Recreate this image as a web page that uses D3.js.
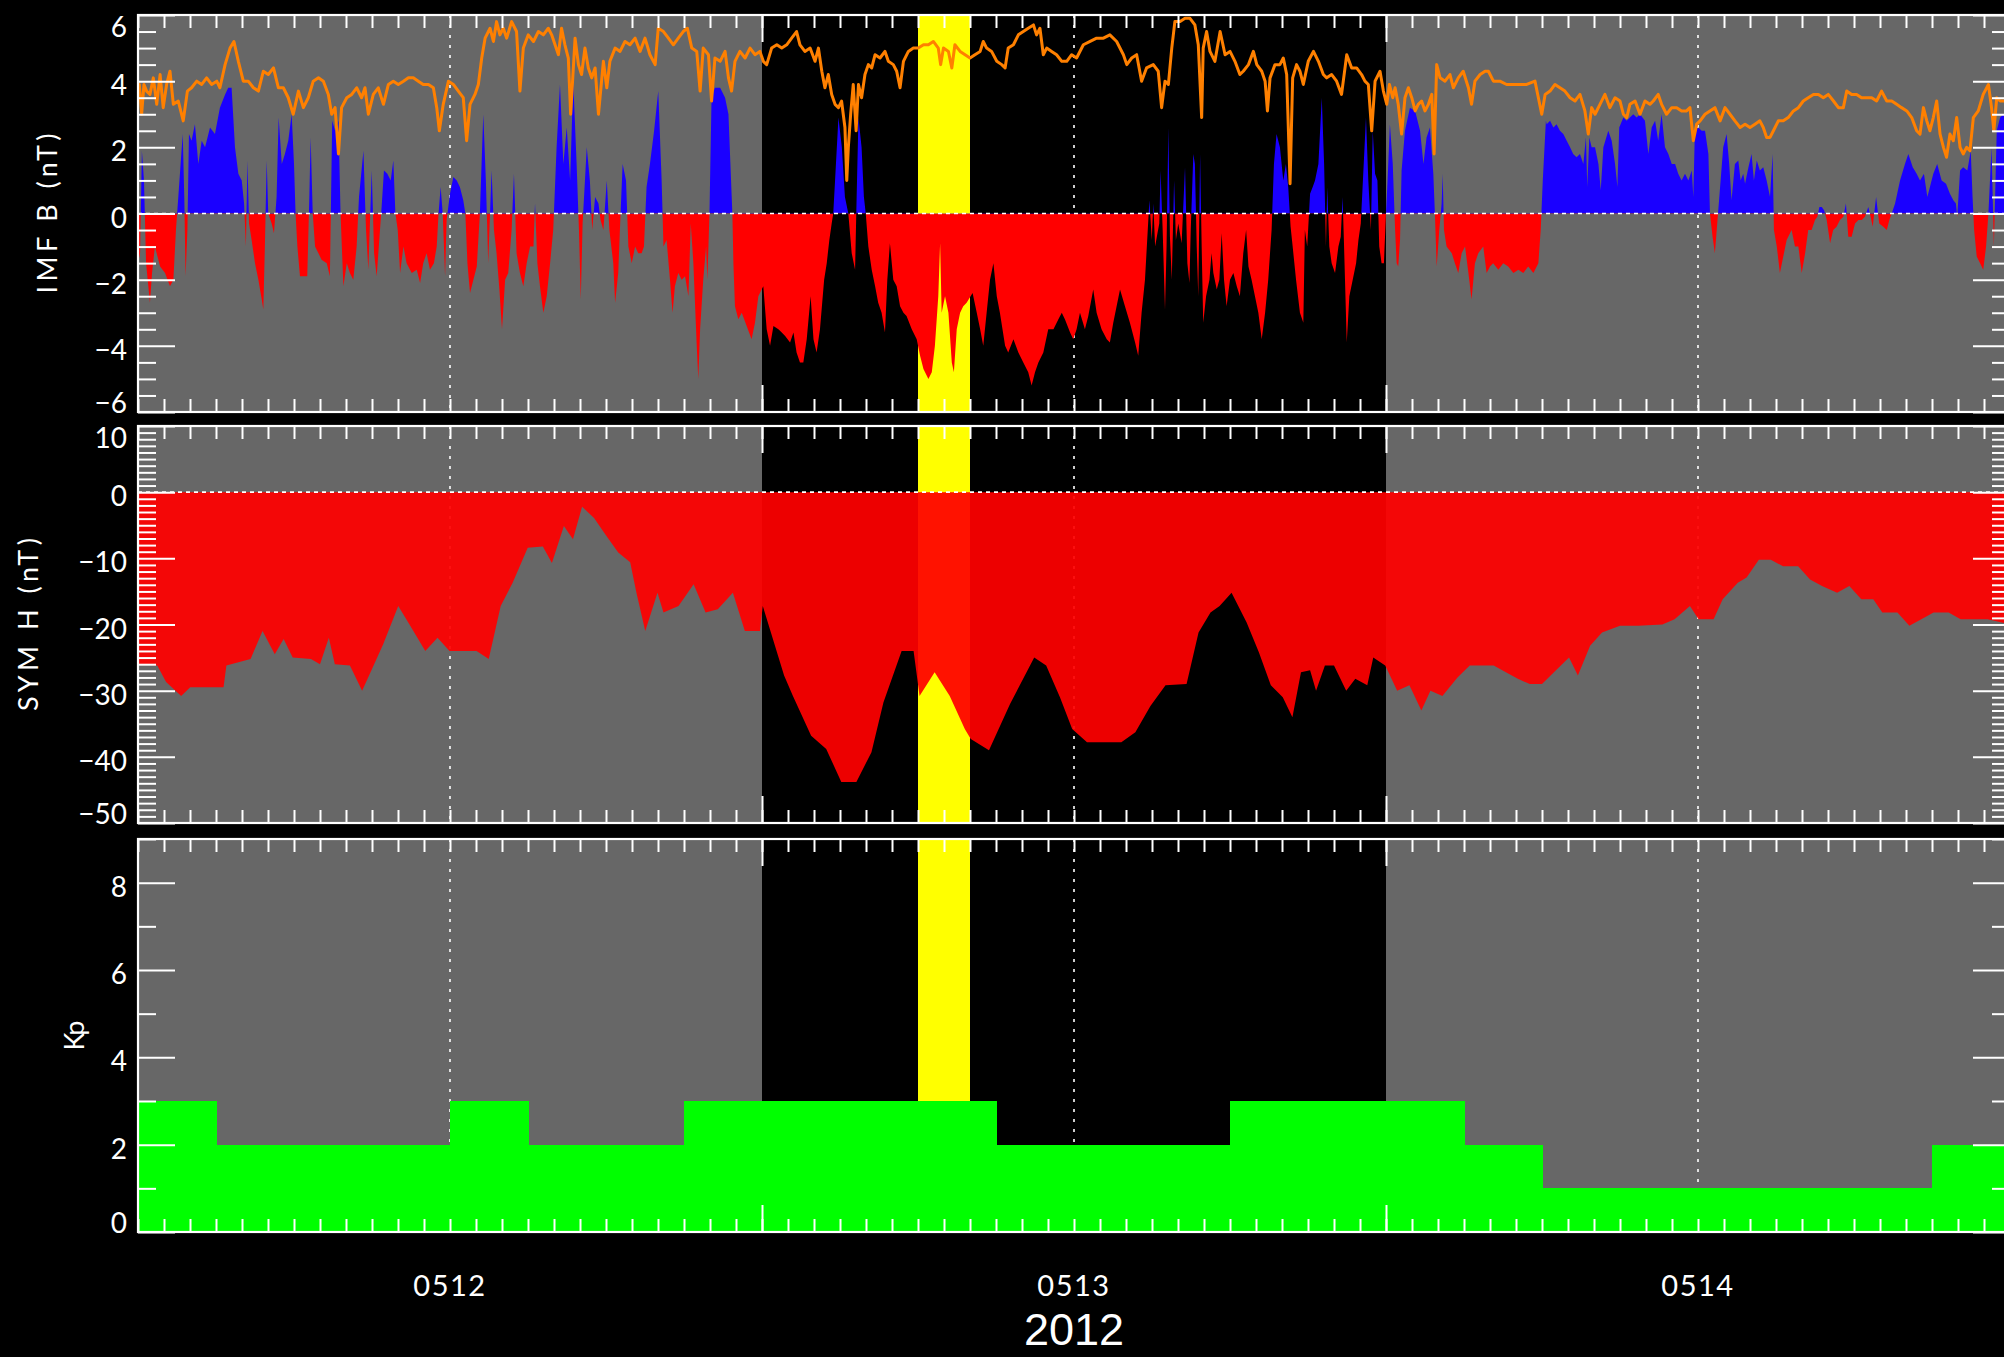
<!DOCTYPE html>
<html>
<head>
<meta charset="utf-8">
<script src="https://cdn.jsdelivr.net/npm/d3@7"></script>
<style>
html, body { margin: 0; padding: 0; background: #000; }
svg { display: block; }
text { fill: #fff; }
</style>
</head>
<body>
<svg id="chart" width="2004" height="1357"></svg>
<script>
// ---------------- DATA (hours after 2012-05-11 12:00 UT) ----------------
const startUTC = Date.UTC(2012, 4, 11, 12);
const spanHours = 72;

// Background intervals
const bandStart = [0, 24, 48];
const bandEnd   = [24, 48, 72];
const bandKind  = ["quiet", "storm", "quiet"];
const highlightStart = 30;
const highlightEnd = 32;
const dayLines = [12, 36, 60];
const longTickHours = [24, 48];

// IMF Bz (nT)
const bzData = [
[0.00,-1.5],[0.08,-1.2],[0.15,1.9],[0.23,1.0],[0.31,-1.5],[0.46,-2.7],[0.54,-1.8],[0.65,-1.0],[0.85,-1.6],[1.04,-1.8],[1.23,-2.2],[1.36,-2.0],[1.46,-0.5],[1.55,0.5],[1.72,2.4],[1.78,0.5],[1.83,-1.9],[1.90,-0.5],[1.96,2.4],[2.06,2.2],[2.19,2.7],[2.32,1.5],[2.45,2.2],[2.58,2.0],[2.77,2.6],[2.96,2.4],[3.15,3.2],[3.35,3.6],[3.47,3.8],[3.60,3.8],[3.73,2.0],[3.86,1.2],[3.99,1.0],[4.08,0.3],[4.15,-1.0],[4.21,1.6],[4.27,-0.3],[4.37,-0.8],[4.50,-1.5],[4.63,-2.0],[4.76,-2.6],[4.82,-2.9],[4.88,-1.0],[4.95,1.6],[5.01,0],[5.14,-0.3],[5.23,-0.6],[5.33,0.5],[5.41,2.9],[5.53,1.5],[5.65,1.8],[5.78,2.2],[5.91,3.0],[6.00,1.5],[6.06,0],[6.13,-1.0],[6.23,-1.9],[6.36,-1.9],[6.51,-1.9],[6.59,0.5],[6.64,2.3],[6.72,0],[6.81,-1.0],[6.94,-1.2],[7.06,-1.4],[7.26,-1.5],[7.38,-1.9],[7.47,2.8],[7.58,2.5],[7.71,2.8],[7.79,0],[7.90,-2.2],[8.03,-1.5],[8.15,-1.8],[8.28,-2.0],[8.41,-1.0],[8.50,0.5],[8.67,1.9],[8.77,-0.5],[8.86,-1.7],[8.99,1.3],[9.08,-1.2],[9.18,-1.9],[9.28,-0.8],[9.37,0.2],[9.46,1.3],[9.59,1.2],[9.72,1.0],[9.82,1.6],[9.90,0],[9.99,-0.5],[10.08,-1.8],[10.21,-1.0],[10.33,-1.5],[10.53,-1.8],[10.72,-1.7],[10.85,-2.1],[10.97,-1.5],[11.10,-1.2],[11.23,-1.7],[11.38,-1.5],[11.49,-1.0],[11.56,0],[11.64,0.8],[11.72,0],[11.81,-1.9],[11.87,-0.2],[12.00,0.6],[12.13,1.1],[12.26,1.0],[12.38,0.8],[12.51,0.4],[12.59,0],[12.67,-1.5],[12.77,-2.4],[12.90,-2.0],[13.03,-1.6],[13.15,0],[13.28,3.0],[13.38,1.0],[13.47,-1.5],[13.60,1.3],[13.69,-0.5],[13.79,-1.2],[13.90,-2.3],[14.00,-3.5],[14.12,-2.0],[14.24,-1.8],[14.37,-0.5],[14.46,1.2],[14.56,-1.2],[14.69,-1.8],[14.82,-2.2],[14.95,-1.5],[15.08,-1.0],[15.21,-1.0],[15.27,0.3],[15.36,-1.5],[15.46,-2.2],[15.59,-3.0],[15.72,-2.5],[15.85,-1.5],[15.97,-0.5],[16.10,2.0],[16.23,3.9],[16.36,1.5],[16.49,2.6],[16.62,1.0],[16.74,4.0],[16.87,1.5],[16.96,-0.5],[17.03,-2.6],[17.10,-0.3],[17.26,2.0],[17.38,1.0],[17.47,-0.5],[17.58,0.5],[17.71,0.3],[17.79,-0.2],
[17.90,-0.5],[18.03,1.0],[18.13,-0.5],[18.28,-1.5],[18.35,-2.7],[18.47,-1.8],[18.56,0],[18.64,1.5],[18.77,1.0],[18.86,-1.0],[18.99,-1.5],[19.12,-1.0],[19.24,-1.2],[19.37,-1.2],[19.46,-1.0],[19.56,0.8],[19.69,1.5],[19.85,2.5],[20.01,3.7],[20.14,1.0],[20.21,-1.0],[20.33,-0.8],[20.46,-2.0],[20.56,-3.0],[20.65,-2.2],[20.78,-1.8],[20.91,-2.0],[21.04,-1.9],[21.17,-2.5],[21.26,-0.3],[21.36,-1.5],[21.49,-4.0],[21.55,-5.0],[21.62,-3.5],[21.74,-2.0],[21.85,-1.0],[21.90,-2.0],[21.98,0],[22.06,3.5],[22.19,3.8],[22.39,3.8],[22.58,3.5],[22.71,3.0],[22.81,1.0],[22.86,0],[22.90,-1.5],[22.96,-2.8],[23.09,-3.2],[23.22,-3.0],[23.41,-3.4],[23.60,-3.8],[23.73,-3.3],[23.86,-2.5],[24.05,-2.2],[24.18,-3.5],[24.31,-4.0],[24.44,-3.4],[24.63,-3.5],[24.76,-3.6],[24.89,-3.7],[25.08,-3.9],[25.21,-3.6],[25.33,-4.2],[25.46,-4.5],[25.59,-4.5],[25.72,-3.8],[25.87,-2.5],[25.98,-3.8],[26.10,-4.2],[26.23,-3.5],[26.39,-2.0],[26.49,-1.5],[26.59,-0.8],[26.68,-0.3],[26.74,0],[26.81,1.0],[26.94,2.9],[27.07,2.0],[27.19,0.5],[27.32,0],[27.45,-1.2],[27.58,-1.7],[27.64,0.5],[27.71,2.9],[27.83,2.0],[27.92,0.5],[27.99,0],[28.09,-1.0],[28.22,-1.7],[28.35,-2.2],[28.47,-2.7],[28.60,-3.0],[28.73,-3.6],[28.82,-2.0],[28.92,-0.9],[29.05,-2.0],[29.18,-2.2],[29.31,-2.8],[29.44,-3.0],[29.56,-3.1],[29.76,-3.5],[29.95,-3.8],[30.08,-4.3],[30.21,-4.7],[30.40,-5.0],[30.53,-4.8],[30.65,-4.0],[30.78,-2.5],[30.85,-0.9],[30.91,-3.0],[31.04,-2.5],[31.17,-3.0],[31.30,-4.5],[31.38,-4.8],[31.49,-3.5],[31.62,-3.0],[31.74,-2.8],[31.87,-2.7],[32.10,-2.4],[32.26,-3.0],[32.39,-3.5],[32.51,-4.0],[32.64,-3.0],[32.77,-2.0],[32.90,-1.5],[33.03,-2.5],[33.15,-3.0],[33.35,-4.0],[33.47,-4.2],[33.67,-3.8],[33.86,-4.2],[34.05,-4.5],[34.24,-4.8],[34.37,-5.2],[34.50,-4.8],[34.63,-4.5],[34.82,-4.2],[35.01,-3.5],[35.21,-3.5],[35.40,-3.2],[35.53,-3.0],[35.65,-3.2],[35.85,-3.6],[35.97,-3.8],[36.10,-3.5],
[36.23,-3.0],[36.42,-3.5],[36.55,-3.1],[36.74,-2.3],[36.87,-3.0],[37.06,-3.5],[37.26,-3.8],[37.38,-3.9],[37.51,-3.3],[37.77,-2.3],[37.96,-2.8],[38.15,-3.3],[38.35,-3.9],[38.47,-4.3],[38.60,-3.0],[38.73,-2.0],[38.83,-0.6],[38.90,0.4],[38.99,-0.8],[39.05,0.3],[39.12,-1.0],[39.21,-0.6],[39.28,-0.3],[39.33,1.3],[39.41,-0.5],[39.50,-2.9],[39.56,-1.0],[39.63,2.6],[39.69,-0.7],[39.76,-2.0],[39.85,1.0],[39.92,-0.8],[40.01,-0.3],[40.14,-0.9],[40.27,1.4],[40.36,-1.5],[40.44,-2.1],[40.49,-0.5],[40.59,1.8],[40.65,1.5],[40.72,-1.0],[40.78,-2.5],[40.85,1.8],[40.91,-1.0],[40.97,-3.3],[41.08,-2.5],[41.21,-2.0],[41.29,-1.2],[41.36,-1.8],[41.49,-2.3],[41.59,-2.0],[41.68,-0.6],[41.77,-2.0],[41.87,-2.8],[42.00,-2.0],[42.13,-1.8],[42.26,-2.2],[42.38,-2.5],[42.51,-1.2],[42.62,-0.5],[42.71,-1.6],[42.83,-2.0],[42.96,-2.5],[43.09,-3.0],[43.22,-3.8],[43.35,-3.0],[43.47,-2.0],[43.60,-0.5],[43.69,1.5],[43.79,2.4],[43.92,2.0],[44.05,1.0],[44.15,1.5],[44.24,0.8],[44.33,-0.4],[44.41,-1.0],[44.54,-2.0],[44.69,-3.0],[44.82,-3.3],[44.88,-0.5],[44.97,-1.0],[45.08,0.6],[45.18,0.8],[45.27,1.0],[45.40,1.5],[45.53,3.5],[45.62,1.5],[45.69,-1.0],[45.74,0.8],[45.82,-1.0],[45.91,-1.5],[46.04,-1.8],[46.17,-1.0],[46.26,-0.7],[46.33,0.5],[46.38,-0.8],[46.49,-3.9],[46.59,-2.5],[46.72,-2.0],[46.85,-1.5],[46.94,-0.8],[47.03,-0.3],[47.10,0.8],[47.23,2.9],[47.32,1.0],[47.42,-0.5],[47.49,2.5],[47.58,1.2],[47.67,1.0],[47.74,-1.0],[47.83,-1.5],[47.92,-1.5],[48.00,0],[48.06,1.0],[48.15,2.7],[48.26,1.5],[48.35,-0.5],[48.41,-1.5],[48.47,-1.6],[48.54,-0.8],[48.60,1.3],[48.73,2.5],[48.92,3.2],[49.12,3.1],[49.31,2.5],[49.44,1.5],[49.56,2.3],[49.69,2.6],[49.82,1.2],[49.88,0],[49.95,-1.6],[50.05,-0.5],[50.14,0.3],[50.18,1.2],[50.23,-0.5],[50.33,-1.0],[50.53,-1.2],[50.65,-1.5],[50.78,-1.8],[50.91,-1.2],[51.04,-1.0],[51.17,-1.8],[51.29,-2.6],[51.42,-1.5],[51.55,-1.2],[51.74,-1.0],[51.87,-1.8],[52.00,-1.6],[52.12,-1.5],[52.32,-1.7],[52.51,-1.5],[52.70,-1.6],[52.90,-1.8],[53.09,-1.7],[53.28,-1.8],[53.47,-1.6],[53.67,-1.8],[53.86,-1.5],[53.95,-0.5],[54.03,1.0],[54.15,2.8],
[54.18,2.7],[54.31,2.8],[54.44,2.6],[54.56,2.7],[54.69,2.5],[54.82,2.4],[54.95,2.2],[55.08,2.0],[55.20,1.8],[55.33,1.7],[55.46,1.8],[55.59,1.5],[55.69,2.3],[55.74,0.8],[55.82,2.3],[55.91,2.0],[56.04,2.0],[56.17,1.5],[56.26,0.7],[56.36,2.0],[56.55,2.5],[56.68,2.2],[56.81,1.5],[56.90,0.8],[56.97,2.6],[57.13,2.9],[57.26,2.8],[57.38,2.9],[57.51,3.0],[57.64,2.9],[57.77,3.0],[57.96,2.8],[58.09,1.8],[58.22,2.6],[58.35,2.8],[58.47,2.2],[58.60,3.0],[58.73,2.0],[58.86,1.8],[58.99,1.5],[59.12,1.5],[59.24,1.2],[59.37,1.0],[59.50,1.2],[59.63,1.0],[59.76,1.3],[59.82,0.5],[59.88,2.5],[60.01,2.6],[60.14,2.5],[60.27,2.5],[60.40,1.8],[60.46,0],[60.56,-0.7],[60.65,-1.2],[60.74,-0.3],[60.82,0.5],[60.97,2.0],[61.10,2.4],[61.20,1.5],[61.29,0.4],[61.42,1.5],[61.55,1.6],[61.64,1.0],[61.74,1.2],[61.81,0.9],[61.94,1.4],[62.06,1.8],[62.15,1.0],[62.26,1.6],[62.38,1.3],[62.51,1.4],[62.64,1.0],[62.77,0.5],[62.87,1.8],[62.92,-0.5],[63.03,-1.0],[63.15,-1.8],[63.28,-1.3],[63.41,-0.8],[63.60,-0.5],[63.73,-1.0],[63.86,-1.0],[63.99,-1.8],[64.12,-1.2],[64.24,-0.5],[64.37,-0.5],[64.50,-0.2],[64.59,-0.1],[64.67,0.2],[64.76,0.2],[64.85,0.1],[64.95,-0.2],[65.08,-0.9],[65.20,-0.5],[65.33,-0.4],[65.46,-0.2],[65.59,-0.1],[65.69,0.3],[65.78,-0.7],[65.91,-0.7],[66.04,-0.3],[66.17,-0.2],[66.30,-0.2],[66.42,-0.1],[66.55,0.2],[66.64,-0.1],[66.72,-0.4],[66.85,0.5],[66.97,-0.3],[67.13,-0.4],[67.26,-0.5],[67.36,-0.2],[67.45,0],[67.58,0.3],[67.77,1.0],[67.96,1.5],[68.09,1.8],[68.26,1.4],[68.41,1.2],[68.54,1.0],[68.69,1.2],[68.82,0.5],[68.92,0.8],[69.05,1.2],[69.20,1.5],[69.37,1.0],[69.54,0.9],[69.69,0.6],[69.82,0.4],[69.92,0.3],[69.97,-0.1],[70.08,1.3],[70.20,1.4],[70.36,1.3],[70.49,1.9],[70.56,0.5],[70.62,-0.5],[70.72,-1.3],[70.85,-1.5],[70.97,-1.7],[71.08,-1.0],[71.17,0],[71.29,2.0],[71.38,-1.0],[71.49,2.5],[71.62,2.9],[71.74,3.0],[72.00,2.8]
];

// IMF |B| (nT)
const btData = [
[0.00,3.8],[0.05,3.9],[0.14,3.0],[0.23,3.9],[0.33,3.7],[0.46,3.6],[0.59,4.1],[0.72,3.3],[0.85,4.2],[0.97,3.2],[1.10,3.9],[1.23,4.3],[1.36,3.3],[1.55,3.4],[1.74,2.8],[1.90,3.7],[2.06,3.8],[2.26,4.0],[2.45,3.9],[2.64,4.1],[2.83,3.9],[3.03,4.0],[3.15,3.8],[3.35,4.5],[3.54,5.0],[3.69,5.2],[3.86,4.6],[4.05,4.0],[4.24,4.0],[4.44,3.8],[4.63,3.7],[4.82,4.3],[5.01,4.2],[5.21,4.4],[5.40,3.8],[5.59,3.8],[5.78,3.5],[5.97,3.0],[6.17,3.7],[6.36,3.2],[6.55,3.5],[6.74,4.0],[6.94,4.1],[7.13,4.0],[7.32,3.6],[7.45,3.0],[7.58,3.2],[7.71,1.8],[7.83,3.2],[8.03,3.5],[8.22,3.6],[8.41,3.8],[8.60,3.5],[8.73,3.8],[8.86,3.0],[9.05,3.6],[9.24,3.8],[9.44,3.3],[9.63,3.9],[9.82,4.0],[10.01,3.9],[10.21,4.0],[10.40,4.1],[10.59,4.1],[10.78,4.0],[10.97,3.9],[11.17,3.9],[11.36,3.8],[11.49,3.2],[11.59,2.5],[11.74,3.3],[11.94,4.0],[12.13,3.9],[12.32,3.7],[12.51,3.5],[12.64,2.2],[12.77,3.3],[12.96,3.6],[13.09,3.9],[13.22,4.7],[13.35,5.3],[13.54,5.6],[13.67,5.2],[13.79,5.8],[13.92,5.4],[14.05,5.6],[14.18,5.3],[14.37,5.8],[14.56,5.5],[14.69,3.7],[14.82,5.0],[15.01,5.4],[15.21,5.2],[15.40,5.5],[15.59,5.4],[15.78,5.6],[15.91,5.4],[16.04,5.1],[16.17,4.8],[16.29,5.6],[16.42,5.1],[16.55,4.7],[16.64,3.0],[16.81,5.3],[16.94,4.5],[17.06,4.2],[17.19,5.0],[17.32,4.4],[17.45,4.1],[17.58,4.4],[17.71,3.0],
[17.90,4.6],[18.03,3.8],[18.15,4.6],[18.35,5.0],[18.54,4.9],[18.73,5.2],[18.92,5.1],[19.12,5.3],[19.31,4.9],[19.50,5.3],[19.69,4.8],[19.89,4.5],[20.01,5.6],[20.21,5.5],[20.40,5.3],[20.59,5.1],[20.78,5.3],[20.97,5.5],[21.13,5.6],[21.30,5.0],[21.49,4.9],[21.62,3.7],[21.74,5.0],[21.94,4.8],[22.06,3.4],[22.19,4.7],[22.39,4.6],[22.58,4.9],[22.71,4.1],[22.83,3.7],[22.96,4.6],[23.15,4.9],[23.35,4.7],[23.54,5.0],[23.73,4.8],[23.92,4.9],[24.05,4.6],[24.18,4.5],[24.37,5.0],[24.57,5.1],[24.76,5.0],[24.95,5.1],[25.14,5.3],[25.33,5.5],[25.46,5.1],[25.65,4.9],[25.85,5.0],[26.04,4.6],[26.17,5.0],[26.30,4.3],[26.42,3.8],[26.55,4.2],[26.68,3.6],[26.81,3.3],[26.94,3.2],[27.06,3.4],[27.19,2.6],[27.26,1.0],[27.32,2.0],[27.41,3.0],[27.51,3.9],[27.62,2.5],[27.71,3.9],[27.83,3.5],[27.96,4.2],[28.09,4.5],[28.22,4.4],[28.35,4.8],[28.54,4.7],[28.73,4.9],[28.86,4.6],[29.05,4.5],[29.18,4.3],[29.31,3.8],[29.44,4.6],[29.63,4.9],[29.82,5.0],[30.01,5.0],[30.21,5.1],[30.40,5.1],[30.59,5.2],[30.78,5.0],[30.87,4.5],[30.98,5.0],[31.17,4.9],[31.30,4.4],[31.42,5.1],[31.62,4.9],[31.81,4.8],[32.00,4.7],[32.19,4.8],[32.39,4.9],[32.51,5.2],[32.64,5.0],[32.83,4.9],[33.03,4.6],[33.22,4.5],[33.35,4.4],[33.47,5.0],[33.67,5.1],[33.86,5.4],[34.05,5.5],[34.24,5.6],[34.44,5.7],[34.56,5.4],[34.69,5.6],[34.82,4.8],[34.95,5.0],[35.14,4.9],[35.33,4.8],[35.53,4.6],[35.72,4.6],[35.91,4.8],[36.10,4.7],
[36.36,5.1],[36.62,5.2],[36.87,5.3],[37.13,5.3],[37.38,5.4],[37.64,5.2],[37.90,4.8],[38.03,4.5],[38.22,4.7],[38.41,4.8],[38.60,4.0],[38.79,4.4],[39.05,4.5],[39.24,4.3],[39.37,3.2],[39.50,4.0],[39.63,3.9],[39.76,5.0],[39.88,5.8],[40.08,5.8],[40.27,5.9],[40.46,5.9],[40.65,5.7],[40.78,5.1],[40.91,2.9],[40.97,5.0],[41.10,5.5],[41.23,4.9],[41.42,4.6],[41.62,5.5],[41.81,4.8],[42.00,4.9],[42.19,4.6],[42.38,4.2],[42.51,4.3],[42.71,4.5],[42.90,4.9],[43.03,4.5],[43.22,4.3],[43.35,4.0],[43.44,3.1],[43.54,4.1],[43.73,4.5],[43.92,4.5],[44.05,4.7],[44.18,4.2],[44.31,0.9],[44.41,4.1],[44.56,4.5],[44.69,4.3],[44.82,3.9],[45.01,4.6],[45.21,4.9],[45.40,4.6],[45.59,4.2],[45.72,4.1],[45.91,4.2],[46.10,4.0],[46.29,3.6],[46.49,4.8],[46.68,4.4],[46.87,4.4],[47.06,4.2],[47.19,4.0],[47.32,3.9],[47.45,2.5],[47.58,4.0],[47.77,4.3],[47.90,3.7],[48.03,3.3],[48.13,3.9],[48.26,3.5],[48.35,3.8],[48.47,3.3],[48.60,2.4],[48.73,3.5],[48.86,3.8],[48.99,3.5],[49.12,3.1],[49.24,3.3],[49.37,3.4],[49.50,3.1],[49.63,3.3],[49.76,3.6],[49.85,1.8],[49.95,4.5],[50.08,4.1],[50.27,4.0],[50.46,4.2],[50.59,3.8],[50.78,4.1],[50.97,4.3],[51.17,3.8],[51.29,3.3],[51.42,4.0],[51.62,4.2],[51.81,4.3],[51.94,4.3],[52.13,4.0],[52.38,4.0],[52.64,3.9],[52.90,3.9],[53.15,3.9],[53.41,3.9],
[53.73,4.0],[53.86,3.5],[53.99,3.0],[54.12,3.6],[54.31,3.7],[54.50,3.9],[54.69,3.8],[54.88,3.7],[55.08,3.5],[55.27,3.4],[55.46,3.6],[55.65,3.1],[55.78,2.4],[55.91,3.2],[56.04,3.0],[56.23,3.3],[56.42,3.6],[56.61,3.2],[56.81,3.5],[57.00,3.4],[57.13,3.0],[57.26,2.9],[57.38,3.3],[57.58,3.4],[57.77,3.0],[57.96,3.4],[58.15,3.3],[58.28,3.4],[58.47,3.6],[58.60,3.3],[58.79,3.0],[58.99,3.2],[59.18,3.2],[59.37,3.1],[59.56,3.1],[59.69,3.2],[59.82,2.2],[59.95,2.7],[60.08,2.8],[60.27,3.0],[60.46,3.1],[60.65,3.2],[60.85,2.8],[61.04,3.2],[61.23,3.0],[61.42,2.8],[61.62,2.6],[61.81,2.7],[62.00,2.6],[62.19,2.7],[62.38,2.8],[62.51,2.6],[62.64,2.3],[62.77,2.3],[62.90,2.5],[63.09,2.8],[63.28,2.8],[63.47,2.9],[63.67,3.1],[63.86,3.2],[64.05,3.4],[64.24,3.5],[64.44,3.6],[64.63,3.6],[64.82,3.5],[65.01,3.6],[65.21,3.4],[65.40,3.2],[65.59,3.2],[65.72,3.7],[65.91,3.6],[66.10,3.6],[66.29,3.5],[66.49,3.5],[66.68,3.5],[66.87,3.4],[67.06,3.7],[67.26,3.4],[67.45,3.4],[67.64,3.3],[67.83,3.2],[68.03,3.1],[68.22,2.9],[68.41,2.5],[68.54,2.4],[68.67,3.2],[68.80,2.8],[68.92,2.5],[69.05,2.9],[69.18,3.4],[69.31,2.4],[69.44,2.0],[69.56,1.7],[69.69,2.4],[69.82,2.2],[69.95,2.9],[70.08,2.0],[70.20,1.8],[70.33,2.0],[70.46,1.9],[70.59,2.9],[70.78,3.1],[70.97,3.6],[71.17,3.9],[71.29,3.2],[71.38,2.5],[71.49,3.5],[71.62,3.4],[71.74,3.4],[72.00,3.4]
];

// SYM-H (nT)
const symhData = [
[0.00,-26],[0.74,-26.2],[1.08,-28.7],[1.66,-30.8],[2.01,-29.5],[2.71,-29.5],[3.29,-29.5],[3.40,-26.2],[4.33,-25.2],[4.79,-21],[5.26,-24.5],[5.60,-22.2],[5.95,-25],[6.65,-25.2],[7.00,-26],[7.34,-22],[7.57,-26],[8.15,-26.2],[8.62,-30],[8.97,-27],[9.43,-23],[10.01,-17.2],[10.47,-20.2],[11.05,-24],[11.52,-22],[11.98,-24],[13.02,-24],[13.49,-25.2],[13.95,-17.2],[14.41,-13.7],[14.99,-8.4],[15.57,-8.2],[15.92,-10.7],[16.38,-5.1],[16.73,-7.1],[17.08,-2.2],[17.54,-3.9],[18.01,-6.6],[18.47,-9.1],[18.93,-10.6],[19.17,-15.2],[19.51,-21],[19.98,-15.2],[20.21,-18.2],[20.79,-17.2],[21.37,-13.9],[21.83,-18.2],[22.30,-17.7],[22.88,-15.2],[23.34,-21],[23.92,-21],[24.03,-17.2],[24.85,-27.7],[25.19,-30.8],[25.89,-36.8],[26.47,-38.8],[27.05,-43.8],[27.63,-43.8],[28.21,-39.3],[28.67,-31.8],[29.37,-24],[29.83,-24],[30.06,-30.8],[30.64,-27.2],[31.22,-30.8],[31.80,-35.8],[32.03,-37.3],[32.73,-39],[33.54,-32],[34.47,-25],[34.93,-26.2],[35.46,-31],[35.93,-35.8],
[36.50,-37.8],[37.82,-37.8],[38.36,-36.3],[38.94,-32.3],[39.52,-29.2],[40.33,-29],[40.79,-21.2],[41.25,-18.2],[41.60,-17.2],[42.06,-15.2],[42.64,-19.7],[43.11,-24.2],[43.57,-29.2],[44.03,-31],[44.40,-34],[44.73,-27.2],[45.08,-26.9],[45.31,-30],[45.65,-26.2],[46.00,-26.2],[46.47,-30],[46.82,-28.2],[47.28,-29.2],[47.51,-25],[47.97,-26.2],[48.43,-30],[48.90,-29.2],[49.36,-33],[49.71,-30],[50.17,-30.8],[50.75,-28],[51.22,-26.2],[52.14,-26.2],[52.61,-27.2],[53.07,-28.2],[53.53,-29],[54.00,-29],[54.46,-27.2],[55.04,-25],[55.38,-27.7],[55.85,-23.2],[56.31,-21.2],[57.00,-20.2],[57.70,-20.2],[58.63,-20],[59.10,-19.2],[59.69,-17.2],[60.02,-19.2],[60.60,-19.2],[60.95,-16.2],[61.53,-13.7],[61.87,-12.9],[62.34,-10.2],[62.80,-10.2],[63.27,-11.2],[63.85,-11.2],[64.31,-13.2],[64.77,-14.2],[65.35,-15.2],[65.82,-14.2],[66.28,-16.2],[66.74,-16.2],[67.09,-18.2],[67.67,-18.2],[68.13,-20.2],[68.59,-19.2],[69.06,-18.2],[69.64,-18.2],[70.10,-19.2],[70.68,-19.2],[71.14,-19.2],[72.00,-20]
];

// Kp, 3-hour intervals
const kpStart = [0,3,6,9,12,15,18,21,24,27,30,33,36,39,42,45,48,51,54,57,60,63,66,69];
const kpValues = [3,2,2,2,3,2,2,3,3,3,3,2,2,2,3,3,3,2,1,1,1,1,1,2];

// Axis ticks and labels
const imfMajor = [-6,-4,-2,0,2,4,6];
const symMajor = [-50,-40,-30,-20,-10,0,10];
const kpMajor = [0,2,4,6,8];
const dayLabelHours = [12, 36, 60];
const yearLabel = "2012";

// ---------------- DRAWING ----------------
const W = 2004, H = 1357;
const X0 = 138, X1 = 2010;
const COLORS = { quiet: "#676767", storm: "#000000", highlight: "#ffff00",
  pos: "#1a00ff", neg: "#ff0000", bt: "#ff8000", sym: "#ff0000", kp: "#00ff00" };
const tickFont = "Lato, 'Open Sans', 'DejaVu Sans', sans-serif";

const toDate = h => new Date(startUTC + h * 3600e3);
const x = d3.scaleUtc().domain([toDate(0), toDate(spanHours)]).range([X0, X1]);

const svg = d3.select("#chart");
svg.append("rect").attr("width", W).attr("height", H).attr("fill", "#000");
const defs = svg.append("defs");

const fmtNum = v => v < 0 ? "\u2212" + Math.abs(v) : String(v);

function buildPanel(p) {
  const y = d3.scaleLinear().domain(p.domain).range([p.bottom, p.top]);
  const g = svg.append("g");
  const clipId = "clip-" + p.key;
  defs.append("clipPath").attr("id", clipId).append("rect")
    .attr("x", X0).attr("y", p.top).attr("width", X1 - X0).attr("height", p.bottom - p.top);
  const body = g.append("g").attr("clip-path", `url(#${clipId})`);

  const bands = bandStart.map((s, i) => ({ s, e: bandEnd[i], kind: bandKind[i] }));
  body.selectAll("rect.band").data(bands).join("rect").attr("class", "band")
    .attr("x", d => x(toDate(d.s))).attr("width", d => x(toDate(d.e)) - x(toDate(d.s)))
    .attr("y", p.top).attr("height", p.bottom - p.top)
    .attr("fill", d => COLORS[d.kind]).attr("shape-rendering", "crispEdges");
  body.append("rect")
    .attr("x", x(toDate(highlightStart))).attr("width", x(toDate(highlightEnd)) - x(toDate(highlightStart)))
    .attr("y", p.top).attr("height", p.bottom - p.top)
    .attr("fill", COLORS.highlight).attr("shape-rendering", "crispEdges");

  body.selectAll("line.day").data(dayLines).join("line").attr("class", "day")
    .attr("x1", d => x(toDate(d))).attr("x2", d => x(toDate(d)))
    .attr("y1", p.top).attr("y2", p.bottom)
    .attr("stroke", "#fff").attr("stroke-width", 1.6).attr("stroke-dasharray", "3,7");

  const dataLayer = body.append("g");
  const overLayer = body.append("g");
  return { y, g, body, dataLayer, overLayer };
}

function drawAxes(p, P) {
  const y = P.y, g = P.g;
  const minor = d3.range(p.domain[0], p.domain[1] + 1e-9, p.minorStep)
    .filter(v => !p.major.some(m => Math.abs(m - v) < 1e-9));
  const styleAxis = sel => {
    sel.select(".domain").remove();
    sel.selectAll(".tick line").attr("stroke", "#fff").attr("stroke-width", 2);
    sel.selectAll(".tick text").remove();
  };
  g.append("g").attr("transform", `translate(${X0},0)`)
    .call(d3.axisLeft(y).tickValues(p.major).tickSize(-37).tickFormat("")).call(styleAxis);
  g.append("g").attr("transform", `translate(${X0},0)`)
    .call(d3.axisLeft(y).tickValues(minor).tickSize(-18).tickFormat("")).call(styleAxis);
  g.append("g").attr("transform", `translate(${X1},0)`)
    .call(d3.axisRight(y).tickValues(p.major).tickSize(-37).tickFormat("")).call(styleAxis);
  g.append("g").attr("transform", `translate(${X1},0)`)
    .call(d3.axisRight(y).tickValues(minor).tickSize(-18).tickFormat("")).call(styleAxis);

  const hours = d3.utcHour.range(toDate(0), toDate(spanHours + 0.01));
  const longs = longTickHours.map(toDate);
  g.append("g").attr("transform", `translate(0,${p.top})`)
    .call(d3.axisTop(x).tickValues(hours).tickSize(-13).tickFormat("")).call(styleAxis);
  g.append("g").attr("transform", `translate(0,${p.top})`)
    .call(d3.axisTop(x).tickValues(longs).tickSize(-27).tickFormat("")).call(styleAxis);
  g.append("g").attr("transform", `translate(0,${p.bottom})`)
    .call(d3.axisBottom(x).tickValues(hours).tickSize(-13).tickFormat("")).call(styleAxis);
  g.append("g").attr("transform", `translate(0,${p.bottom})`)
    .call(d3.axisBottom(x).tickValues(longs).tickSize(-27).tickFormat("")).call(styleAxis);

  // frame
  g.append("rect").attr("x", X0).attr("y", p.top).attr("width", X1 - X0).attr("height", p.bottom - p.top)
    .attr("fill", "none").attr("stroke", "#fff").attr("stroke-width", 2.2);

  // tick labels
  g.selectAll("text.ylab").data(p.major).join("text").attr("class", "ylab")
    .attr("x", 127)
    .attr("y", v => Math.min(Math.max(y(v) + 4, p.top + 12), p.bottom - 9))
    .attr("dy", "0.36em")
    .attr("text-anchor", "end")
    .attr("font-family", tickFont).attr("font-size", 28)
    .text(fmtNum);

  // title
  const cy = (p.top + p.bottom) / 2;
  g.append("text")
    .attr("transform", `translate(${p.titleX},${cy}) rotate(-90)`)
    .attr("text-anchor", "middle").attr("dy", "0.36em")
    .attr("font-family", tickFont).attr("font-size", 27)
    .attr("textLength", p.titleLen).attr("lengthAdjust", "spacing")
    .text(p.title);
}

const panelDefs = [
  { key: "imf", top: 15, bottom: 412, domain: [-6, 6], major: imfMajor, minorStep: 0.5, title: "IMF  B  (nT)", titleX: 47, titleLen: 160 },
  { key: "sym", top: 426, bottom: 823, domain: [-50, 10], major: symMajor, minorStep: 1, title: "SYM  H  (nT)", titleX: 28, titleLen: 173 },
  { key: "kp", top: 839, bottom: 1232, domain: [0, 9], major: kpMajor, minorStep: 1, title: "Kp", titleX: 74, titleLen: 30 }
];

const P = panelDefs.map(buildPanel);

// ---- IMF panel ----
{
  const p = panelDefs[0], y = P[0].y, layer = P[0].dataLayer;
  const y0 = y(0);
  defs.append("clipPath").attr("id", "clip-pos").append("rect")
    .attr("x", X0).attr("y", p.top).attr("width", X1 - X0).attr("height", y0 - p.top);
  defs.append("clipPath").attr("id", "clip-neg").append("rect")
    .attr("x", X0).attr("y", y0).attr("width", X1 - X0).attr("height", p.bottom - y0);
  const area = d3.area().x(d => x(toDate(d[0]))).y0(y0).y1(d => y(d[1]));
  layer.append("path").datum(bzData).attr("d", area).attr("fill", COLORS.neg).attr("clip-path", "url(#clip-neg)");
  layer.append("path").datum(bzData).attr("d", area).attr("fill", COLORS.pos).attr("clip-path", "url(#clip-pos)");
  P[0].overLayer.append("line").attr("x1", X0).attr("x2", X1).attr("y1", y0).attr("y2", y0)
    .attr("stroke", "#fff").attr("stroke-width", 1.6).attr("stroke-dasharray", "4,4");
  const line = d3.line().x(d => x(toDate(d[0]))).y(d => y(d[1]));
  P[0].overLayer.append("path").datum(btData).attr("d", line)
    .attr("fill", "none").attr("stroke", COLORS.bt).attr("stroke-width", 3).attr("stroke-linejoin", "round");
}

// ---- SYM-H panel ----
{
  const y = P[1].y, layer = P[1].dataLayer;
  const area = d3.area().x(d => x(toDate(d[0]))).y0(y(0)).y1(d => y(d[1]));
  layer.append("path").datum(symhData).attr("d", area).attr("fill", COLORS.sym).attr("fill-opacity", 0.93);
  P[1].overLayer.append("line").attr("x1", X0).attr("x2", X1).attr("y1", y(0)).attr("y2", y(0))
    .attr("stroke", "#fff").attr("stroke-width", 1.6).attr("stroke-dasharray", "4,4");
}

// ---- Kp panel ----
{
  const y = P[2].y, layer = P[2].dataLayer;
  const kp = kpStart.map((s, i) => ({ s, v: kpValues[i] }));
  layer.selectAll("rect.kp").data(kp).join("rect").attr("class", "kp")
    .attr("x", d => x(toDate(d.s))).attr("width", d => x(toDate(d.s + 3)) - x(toDate(d.s)) + 0.5)
    .attr("y", d => y(d.v)).attr("height", d => y(0) - y(d.v))
    .attr("fill", COLORS.kp).attr("shape-rendering", "crispEdges");
}

panelDefs.forEach((p, i) => drawAxes(p, P[i]));

// x labels
svg.selectAll("text.xlab").data(dayLabelHours).join("text").attr("class", "xlab")
  .attr("x", d => x(toDate(d))).attr("y", 1286).attr("dy", "0.36em")
  .attr("text-anchor", "middle").attr("font-family", tickFont).attr("font-size", 29)
  .attr("letter-spacing", 1.5)
  .text(d => d3.utcFormat("%m%d")(toDate(d)));

svg.append("text").attr("x", (X0 + X1) / 2).attr("y", 1345)
  .attr("text-anchor", "middle").attr("font-family", "'Liberation Sans', Arial, sans-serif")
  .attr("font-size", 45).text(yearLabel);
</script>
</body>
</html>
